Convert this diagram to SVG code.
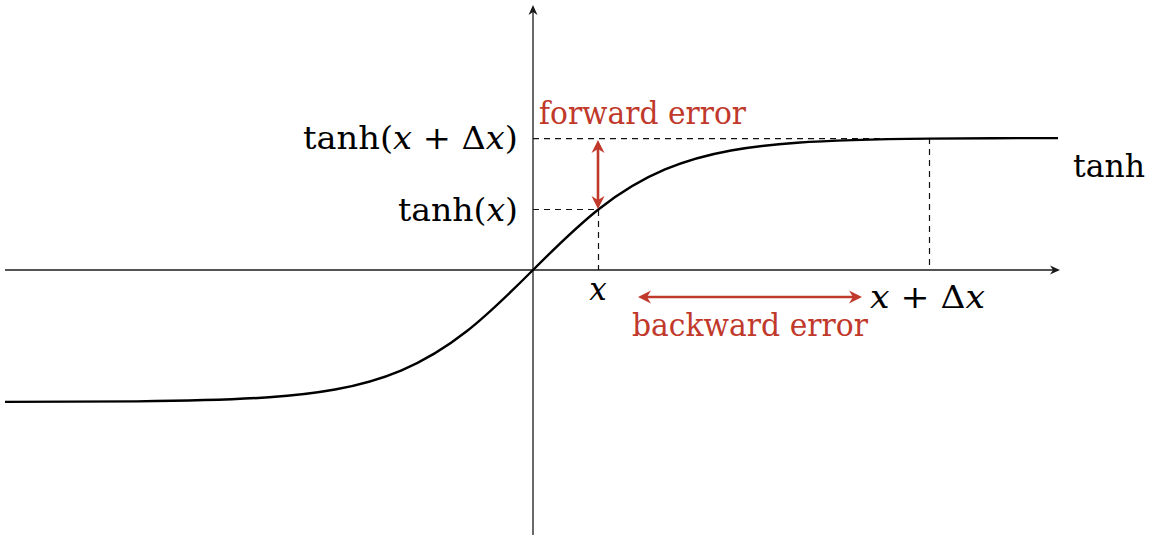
<svg xmlns="http://www.w3.org/2000/svg" width="1152" height="535" viewBox="0 0 1152 535">
<style>
.axis{stroke:#1a1a1a;stroke-width:1.3;fill:none}
.dash{stroke:#111;stroke-width:1.2;stroke-dasharray:6 5;fill:none}
.curve{stroke:#000;stroke-width:2.4;fill:none}
.err{stroke:#c0392b;stroke-width:2.6;fill:none}
text{font-family:'DejaVu Serif',serif;font-size:31px;fill:#000}
.red{fill:#c0392b}
.it{font-style:italic}
</style>
<defs>
<marker id="blackhead" viewBox="-11 -6 12 12" refX="-3" refY="0" markerWidth="12" markerHeight="12" markerUnits="userSpaceOnUse" orient="auto-start-reverse">
<path d="M0,0 L-10,-4.5 L-7,0 L-10,4.5 Z" fill="#1a1a1a"/>
</marker>
<marker id="redhead" viewBox="-14 -8 15 16" refX="-6" refY="0" markerWidth="15" markerHeight="16" markerUnits="userSpaceOnUse" orient="auto-start-reverse">
<path d="M0,0 L-13,-6.5 L-9,0 L-13,6.5 Z" fill="#c0392b"/>
</marker>
</defs>
<g id="axes">
<line class="axis" x1="5" y1="270" x2="1057" y2="270" marker-end="url(#blackhead)"/>
<line class="axis" x1="533" y1="535" x2="533" y2="8" marker-end="url(#blackhead)"/>
</g>
<g id="guides">
<polyline class="dash" points="533,138.6 929.5,138.6 929.5,270"/>
<polyline class="dash" points="533,209.5 598.5,209.5 598.5,270"/>
</g>
<g id="curve">
<path class="curve" d="M5,401.9 C49,401.85 93,401.79 137,401.35 C181,400.91 225,400.36 269,397.25 C291,395.7 313,393.45 335,389.47 C357,385.49 379,379.77 401,370.53 C423,361.29 445,348.3 467,331 C489,313.7 511,292 533,270 C555,248 577,226.3 599,209 C621,191.7 643,178.71 665,169.47 C687,160.23 709,154.51 731,150.53 C753,146.55 775,144.31 797,142.75 C841,139.64 885,139.09 929,138.65 C973,138.21 1014,138.1 1058,138.09"/>
</g>
<g id="connectors">
<line class="err" x1="598" y1="146" x2="598" y2="203" marker-start="url(#redhead)" marker-end="url(#redhead)"/>
<line class="err" x1="644" y1="297" x2="856" y2="297" marker-start="url(#redhead)" marker-end="url(#redhead)"/>
</g>
<g id="labels">
<text x="303" y="149" textLength="215" lengthAdjust="spacingAndGlyphs">tanh(<tspan class="it">x</tspan> + Δ<tspan class="it">x</tspan>)</text>
<text x="398" y="221" textLength="120" lengthAdjust="spacingAndGlyphs">tanh(<tspan class="it">x</tspan>)</text>
<text class="it" x="598" y="300" text-anchor="middle">x</text>
<text x="870" y="308" textLength="115" lengthAdjust="spacingAndGlyphs"><tspan class="it">x</tspan> + Δ<tspan class="it">x</tspan></text>
<text x="1073" y="177" textLength="72" lengthAdjust="spacingAndGlyphs">tanh</text>
<text class="red" x="539" y="124" textLength="207" lengthAdjust="spacingAndGlyphs">forward error</text>
<text class="red" x="632" y="336" textLength="236" lengthAdjust="spacingAndGlyphs">backward error</text>
</g>
</svg>
